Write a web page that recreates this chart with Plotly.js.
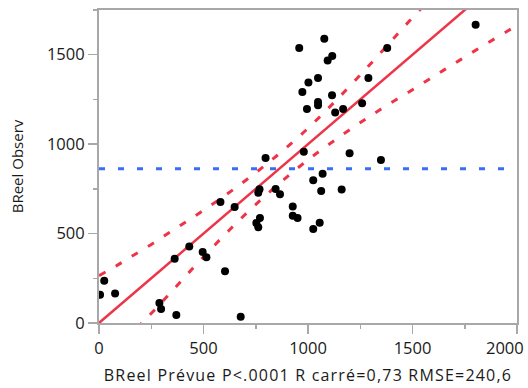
<!DOCTYPE html>
<html>
<head>
<meta charset="utf-8">
<script src="https://cdn.plot.ly/plotly-3.0.1.min.js"></script>
<style>
html,body{margin:0;padding:0;background:#fff;}
#chart{width:528px;height:388px;}
#chart .xtitle{letter-spacing:1.2px;}
</style>
</head>
<body>
<div id="chart"></div>
<script>
// Observed points: predicted (x) vs actual (y)
const predicted = [5, 25, 77, 289, 297, 370, 362, 432, 496, 514, 603, 678, 581, 649, 762, 768, 753, 770, 762,
  797, 845, 866, 927, 927, 950, 1025, 1056, 980, 1025, 1070, 1063, 1161, 1199, 1349, 995, 1048, 1048,
  1130, 1168, 1259, 958, 1078, 1116, 1094, 1379, 1048, 1002, 973, 1115, 1289, 1802];
const observed = [158, 236, 165, 112, 78, 45, 359, 428, 397, 367, 290, 35, 676, 648, 728, 748, 559, 587, 536,
  922, 749, 720, 651, 599, 587, 525, 561, 957, 798, 834, 738, 747, 949, 912, 1197, 1236, 1218,
  1177, 1196, 1229, 1537, 1589, 1493, 1467, 1537, 1370, 1344, 1291, 1274, 1370, 1668];

// Fit line (actual = predicted)
const fitX = [0, 2000];
const fitY = [0, 2000];

// Mean of actual
const meanX = [0, 2000];
const meanY = [862, 862];

// Confidence curves
const upperX = [0, 85, 161, 236, 311, 389, 467, 539, 616, 690, 762, 831, 898, 970, 1033, 1097, 1153, 1223, 1286, 1344, 1404, 1466, 1530, 1600];
const upperY = [265, 321, 376, 429, 486, 545, 604, 661, 724, 787, 851, 916, 982, 1056, 1126, 1200, 1267, 1353, 1432, 1506, 1584, 1664, 1744, 1832];
const lowerX = [180, 212, 273, 335, 399, 459, 523, 587, 648, 711, 778, 842, 911, 978, 1054, 1129, 1198, 1278, 1348, 1427, 1504, 1580, 1655, 1732, 1812, 1890, 1970, 2000];
const lowerY = [-30, 9, 81, 160, 242, 319, 398, 476, 548, 620, 693, 759, 828, 892, 960, 1023, 1079, 1142, 1195, 1252, 1307, 1363, 1418, 1474, 1532, 1587, 1643, 1665];

// Tick values and labels (last x label is drawn shifted inward so it fits)
const xTickVals = [0, 500, 1000, 1500, 2000];
const xTickText = ["0", "500", "1000", "1500", ""];
const xEdgeLabel = "2000";
const yTickVals = [0, 500, 1000, 1500];
const yTickText = ["0", "500", "1000", "1500"];

const xTitle = "BReel Prévue P<.0001 R carré=0,73 RMSE=240,6";
const yTitle = "BReel Observ";

const RED = "#ee3448";
const BLUE = "#3a6cf4";
const AXIS = "#a8a8a8";
const TXT = "#1a1a1a";

const traces = [
  {x: meanX, y: meanY, mode: "lines", line: {color: BLUE, width: 3, dash: "6px,13px"}, hoverinfo: "skip"},
  {x: upperX, y: upperY, mode: "lines", line: {color: RED, width: 3, dash: "7px,12px", shape: "spline"}, hoverinfo: "skip"},
  {x: lowerX, y: lowerY, mode: "lines", line: {color: RED, width: 3, dash: "7px,12px", shape: "spline"}, hoverinfo: "skip"},
  {x: fitX, y: fitY, mode: "lines", line: {color: RED, width: 2.5}, hoverinfo: "skip"},
  {x: predicted, y: observed, mode: "markers", marker: {color: "#000", size: 8}}
];

const fontFam = "'Open Sans', 'Noto Sans', sans-serif";
const axisCommon = {
  showgrid: false, zeroline: false, showline: true, linecolor: AXIS, linewidth: 2, mirror: true,
  ticks: "outside", ticklen: 9, tickwidth: 1.5, tickcolor: AXIS,
  minor: {ticks: "outside", ticklen: 4, tickwidth: 1.5, tickcolor: AXIS, dtick: 250, tick0: 0, showgrid: false},
  tickfont: {family: fontFam, size: 16.5, color: TXT},
  tickmode: "array"
};

const layout = {
  width: 528, height: 388,
  margin: {l: 99, r: 11, t: 10, b: 65},
  paper_bgcolor: "#fff", plot_bgcolor: "#fff",
  showlegend: false,
  xaxis: Object.assign({}, axisCommon, {
    range: [0, 2000], tickvals: xTickVals, ticktext: xTickText,
    title: {text: xTitle, font: {family: fontFam, size: 16, color: TXT}, standoff: 12}
  }),
  yaxis: Object.assign({}, axisCommon, {
    range: [0, 1750], tickvals: yTickVals, ticktext: yTickText,
    title: {text: yTitle, font: {family: fontFam, size: 15, color: TXT}, standoff: 20}
  }),
  annotations: [{
    text: xEdgeLabel, x: xTickVals[4], xref: "x", y: 0, yref: "paper",
    xanchor: "right", yanchor: "top", xshift: 9, yshift: -11,
    showarrow: false, font: {family: fontFam, size: 16.5, color: TXT}
  }]
};

Plotly.newPlot("chart", traces, layout, {staticPlot: true, displayModeBar: false});
</script>
</body>
</html>
